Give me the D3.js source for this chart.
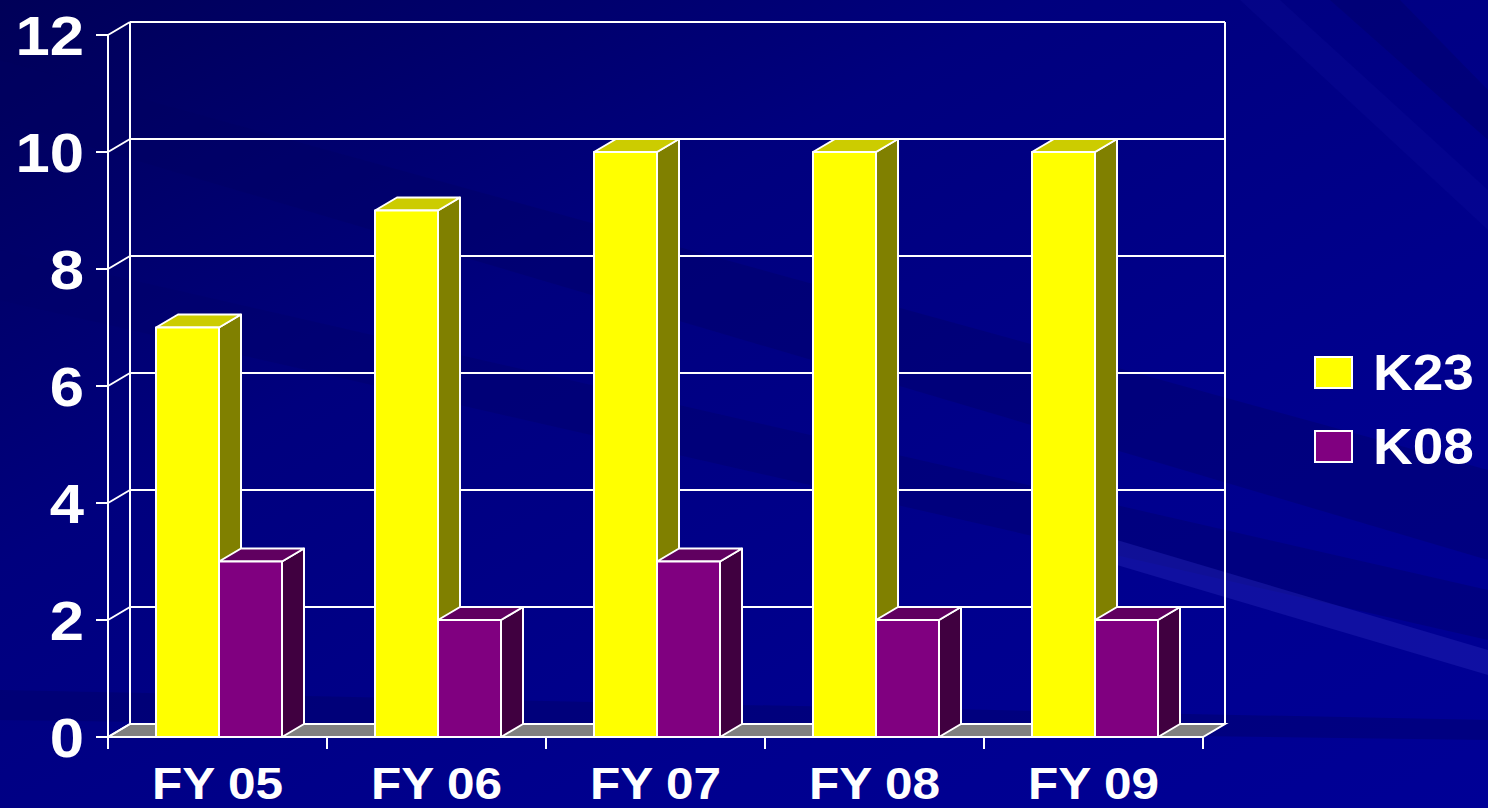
<!DOCTYPE html>
<html>
<head>
<meta charset="utf-8">
<script src="https://cdnjs.cloudflare.com/ajax/libs/d3/7.8.5/d3.min.js"></script>
<style>
  html, body { margin: 0; padding: 0; overflow: hidden; background: #00008c; }
  svg { display: block; }
</style>
</head>
<body>
<div id="chart"></div>
<script>
// ############################################################################
// 3D column chart: K23 vs K08 per fiscal year
// ############################################################################

// ----------------------------------------------------------------------------
// Data
// ----------------------------------------------------------------------------

const categories = ['FY 05', 'FY 06', 'FY 07', 'FY 08', 'FY 09']
const seriesNames = ['K23', 'K08']
const k23Values = [7, 9, 10, 10, 10]
const k08Values = [3, 2, 3, 2, 2]
const yTicks = [0, 2, 4, 6, 8, 10, 12]

// ----------------------------------------------------------------------------
// Layout
// ----------------------------------------------------------------------------

const width = 1488
const height = 808
const depth = { dx: 22, dy: 13 }
const plot = { left: 108, right: 1203, top: 35, bottom: 737 }
const stretch = 'scale(1.1,1)'

const colors = {
  K23: { front: '#ffff00', top: '#cccc00', side: '#808000' },
  K08: { front: '#800080', top: '#600060', side: '#400040' }
}

const svg = d3.select('#chart').append('svg')
  .attr('width', width)
  .attr('height', height)
  .style('font-family', '"Liberation Sans", Arial, sans-serif')
  .style('font-weight', 'bold')

// ============================================================================
// Background
// ============================================================================

const defs = svg.append('defs')
const bgGrad = defs.append('linearGradient')
  .attr('id', 'bg').attr('x1', 0).attr('y1', 0).attr('x2', 1).attr('y2', 1)
bgGrad.append('stop').attr('offset', '0%').attr('stop-color', '#000058')
bgGrad.append('stop').attr('offset', '35%').attr('stop-color', '#00007e')
bgGrad.append('stop').attr('offset', '70%').attr('stop-color', '#00008e')
bgGrad.append('stop').attr('offset', '100%').attr('stop-color', '#000096')

svg.append('rect')
  .attr('width', width).attr('height', height)
  .attr('fill', 'url(#bg)')

// Diagonal streaks of the slide background (kept faint)
const streaks = [
  { pts: [[0, 60], [0, 120], [1488, 560], [1488, 470]], fill: '#000060', op: 0.35 },
  { pts: [[0, 250], [0, 300], [1488, 640], [1488, 590]], fill: '#000068', op: 0.4 },
  { pts: [[1100, 535], [1100, 560], [1488, 675], [1488, 650]], fill: '#2828b8', op: 0.4 },
  { pts: [[0, 690], [0, 720], [1488, 740], [1488, 720]], fill: '#000064', op: 0.4 },
  { pts: [[1240, 0], [1280, 0], [1488, 190], [1488, 230]], fill: '#1818a8', op: 0.18 },
  { pts: [[1330, 0], [1400, 0], [1488, 90], [1488, 140]], fill: '#000066', op: 0.4 }
]
svg.append('g').selectAll('polygon')
  .data(streaks)
  .join('polygon')
  .attr('points', d => d.pts.map(p => p.join(',')).join(' '))
  .attr('fill', d => d.fill)
  .attr('opacity', d => d.op)

// ============================================================================
// Scales
// ============================================================================

const y = d3.scaleLinear().domain([0, 12]).range([plot.bottom, plot.top])
const x = d3.scaleBand().domain(categories).range([plot.left, plot.right])
const xInner = d3.scaleBand().domain(seriesNames)
  .range([48, x.bandwidth() - 45])

// ============================================================================
// Floor, walls and grid
// ============================================================================

svg.append('polygon')
  .attr('points', [
    [plot.left, y(0)], [plot.right, y(0)],
    [plot.right + depth.dx, y(0) - depth.dy], [plot.left + depth.dx, y(0) - depth.dy]
  ].map(p => p.join(',')).join(' '))
  .attr('fill', '#808080')
  .attr('stroke', '#ffffff')
  .attr('stroke-width', 2)

const grid = svg.append('g')
  .attr('stroke', '#ffffff')
  .attr('stroke-width', 2)
  .attr('fill', 'none')

// Back wall grid lines + diagonal tick connectors
yTicks.forEach(t => {
  grid.append('line')
    .attr('x1', plot.left + depth.dx).attr('x2', plot.right + depth.dx)
    .attr('y1', y(t) - depth.dy).attr('y2', y(t) - depth.dy)
  grid.append('line')
    .attr('x1', plot.left).attr('x2', plot.left + depth.dx)
    .attr('y1', y(t)).attr('y2', y(t) - depth.dy)
  grid.append('line')
    .attr('x1', plot.left - 12).attr('x2', plot.left)
    .attr('y1', y(t)).attr('y2', y(t))
})

// Back wall verticals
grid.append('line')
  .attr('x1', plot.left + depth.dx).attr('x2', plot.left + depth.dx)
  .attr('y1', y(12) - depth.dy).attr('y2', y(0) - depth.dy)
grid.append('line')
  .attr('x1', plot.right + depth.dx).attr('x2', plot.right + depth.dx)
  .attr('y1', y(12) - depth.dy).attr('y2', y(0) - depth.dy)

// Front value axis
grid.append('line')
  .attr('x1', plot.left).attr('x2', plot.left)
  .attr('y1', y(12)).attr('y2', y(0) + 12)

// Category ticks
const catTicks = categories.map(c => x(c)).concat([plot.right])
grid.selectAll('.cat-tick')
  .data(catTicks)
  .join('line')
  .attr('x1', d => d).attr('x2', d => d)
  .attr('y1', y(0)).attr('y2', y(0) + 12)

// ============================================================================
// Bars
// ============================================================================

const rows = []
categories.forEach((c, i) => {
  rows.push({ cat: c, series: 'K23', value: k23Values[i] })
  rows.push({ cat: c, series: 'K08', value: k08Values[i] })
})

const bars = svg.append('g')
  .attr('stroke', '#ffffff')
  .attr('stroke-width', 2)
  .attr('stroke-linejoin', 'round')

rows.forEach(d => {
  const x0 = x(d.cat) + xInner(d.series)
  const x1 = x0 + xInner.bandwidth()
  const y0 = y(0)
  const y1 = y(d.value)
  const c = colors[d.series]
  const pts = a => a.map(p => p.join(',')).join(' ')

  // Side face
  bars.append('polygon')
    .attr('points', pts([
      [x1, y0], [x1, y1], [x1 + depth.dx, y1 - depth.dy], [x1 + depth.dx, y0 - depth.dy]
    ]))
    .attr('fill', c.side)
  // Top face
  bars.append('polygon')
    .attr('points', pts([
      [x0, y1], [x1, y1], [x1 + depth.dx, y1 - depth.dy], [x0 + depth.dx, y1 - depth.dy]
    ]))
    .attr('fill', c.top)
  // Front face
  bars.append('rect')
    .attr('x', x0).attr('y', y1)
    .attr('width', x1 - x0).attr('height', y0 - y1)
    .attr('fill', c.front)
})

// ============================================================================
// Labels
// ============================================================================

svg.append('g').selectAll('text')
  .data(yTicks)
  .join('text')
  .attr('transform', d => 'translate(84,' + (y(d) + 20) + ') ' + stretch)
  .attr('text-anchor', 'end')
  .attr('fill', '#ffffff')
  .style('font-size', '56px')
  .text(d => d)

svg.append('g').selectAll('text')
  .data(categories)
  .join('text')
  .attr('transform', d => 'translate(' + (x(d) + x.bandwidth() / 2) + ',799) ' + stretch)
  .attr('text-anchor', 'middle')
  .attr('fill', '#ffffff')
  .style('font-size', '45px')
  .text(d => d)

// ============================================================================
// Legend
// ============================================================================

const legend = svg.append('g')
  .selectAll('g')
  .data(seriesNames)
  .join('g')
  .attr('transform', (d, i) => 'translate(1315,' + (357 + i * 74) + ')')

legend.append('rect')
  .attr('width', 37).attr('height', 31)
  .attr('fill', d => colors[d].front)
  .attr('stroke', '#ffffff')
  .attr('stroke-width', 2)

legend.append('text')
  .attr('transform', 'translate(58,33) ' + stretch)
  .attr('fill', '#ffffff')
  .style('font-size', '50px')
  .text(d => d)
</script>
</body>
</html>
